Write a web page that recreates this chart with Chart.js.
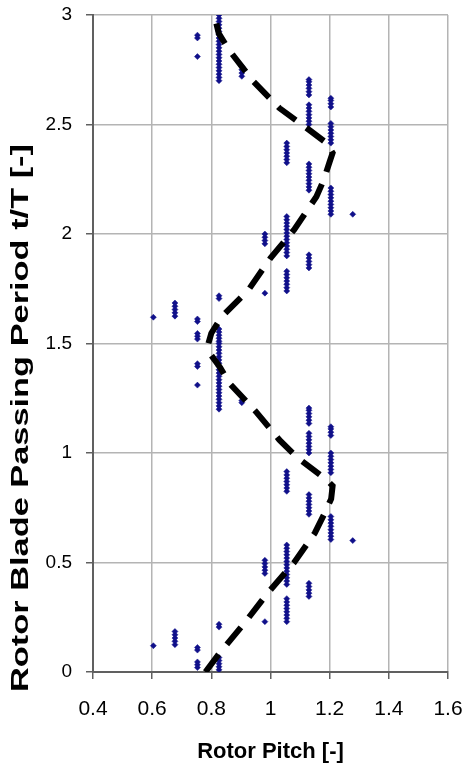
<!DOCTYPE html>
<html>
<head>
<meta charset="utf-8">
<script src="https://cdn.jsdelivr.net/npm/chart.js@4"></script>
<style>
  body { margin: 0; background: #fff; }
  #wrap { width: 464px; height: 765px; }
</style>
</head>
<body>
<div id="wrap"><canvas id="myChart" width="464" height="765"></canvas></div>
<script>
// Rotor pitch columns (x) and the t/T values (y)
const pitchCols = [0.604, 0.677, 0.753, 0.826, 0.903, 0.981, 1.055, 1.130, 1.204, 1.278];

const tAt0604 = [0.12, 1.62];
const tAt0677 = [0.125, 0.14, 0.155, 0.17, 0.185, 1.625, 1.64, 1.655, 1.67, 1.685];
const tAt0753 = [0.02, 0.033, 0.046, 0.10, 0.112, 1.31, 1.395, 1.408, 1.52, 1.533, 1.546, 1.60, 1.612, 2.81, 2.895, 2.908];
const tAt0826 = [0.01, 0.024, 0.038, 0.052, 0.066, 0.205, 0.218,
  1.20, 1.215, 1.23, 1.245, 1.26, 1.275, 1.29, 1.305, 1.32, 1.335, 1.35, 1.365, 1.38, 1.395, 1.41, 1.425, 1.44, 1.455, 1.47, 1.485, 1.50,
  1.51, 1.524, 1.538, 1.552, 1.566, 1.705, 1.718,
  2.70, 2.715, 2.73, 2.745, 2.76, 2.775, 2.79, 2.805, 2.82, 2.835, 2.85, 2.865, 2.88, 2.895, 2.91, 2.925, 2.94, 2.955, 2.97, 2.985, 3.0];
const tAt0903 = [1.23, 1.24, 2.72, 2.735, 2.75, 2.765];
const tAt0981 = [0.23, 0.45, 0.465, 0.48, 0.495, 0.51, 1.73, 1.955, 1.97, 1.985, 2.0];
const tAt1055 = [0.23, 0.245, 0.26, 0.275, 0.29, 0.305, 0.32, 0.335, 0.40, 0.415, 0.43, 0.445,
  0.46, 0.475, 0.49, 0.505, 0.52, 0.535, 0.55, 0.565, 0.58, 0.825, 0.84, 0.855, 0.87, 0.885, 0.90, 0.915,
  1.74, 1.755, 1.77, 1.785, 1.80, 1.815, 1.83, 1.90, 1.915, 1.93, 1.945,
  1.96, 1.975, 1.99, 2.005, 2.02, 2.035, 2.05, 2.065, 2.08, 2.325, 2.34, 2.355, 2.37, 2.385, 2.40, 2.415];
const tAt1130 = [0.345, 0.36, 0.375, 0.39, 0.405, 0.72, 0.735, 0.75, 0.765, 0.78, 0.795, 0.81,
  1.0, 1.015, 1.03, 1.045, 1.06, 1.075, 1.09, 1.135, 1.15, 1.165, 1.18, 1.195, 1.205,
  1.845, 1.86, 1.875, 1.89, 1.905, 2.20, 2.215, 2.23, 2.245, 2.26, 2.275, 2.29, 2.305, 2.32,
  2.50, 2.515, 2.53, 2.545, 2.56, 2.575, 2.59, 2.635, 2.65, 2.665, 2.68, 2.695, 2.705];
const tAt1204 = [0.605, 0.62, 0.635, 0.65, 0.665, 0.68, 0.695, 0.71, 0.91, 0.925, 0.94, 0.955, 0.97, 0.985, 1.0,
  1.08, 1.095, 1.11, 1.12,
  2.09, 2.105, 2.12, 2.135, 2.15, 2.165, 2.18, 2.195, 2.21, 2.415, 2.43, 2.445, 2.46, 2.475, 2.49, 2.505,
  2.58, 2.595, 2.61, 2.62];
const tAt1278 = [0.60, 2.09];

// dashed curve
const lineX = [0.78, 0.83, 0.91, 0.99, 1.08, 1.15, 1.18, 1.205, 1.21, 1.19, 1.09, 1.03, 0.95, 0.86, 0.83, 0.795, 0.79,
  0.80, 0.835, 0.925, 1.00, 1.08, 1.155, 1.18, 1.20, 1.21, 1.19, 1.13, 1.03, 0.94, 0.86, 0.825, 0.81];
const lineY = [0.0, 0.09, 0.22, 0.36, 0.50, 0.635, 0.717, 0.79, 0.85, 0.877, 0.98, 1.06, 1.19, 1.32, 1.39, 1.455, 1.50,
  1.547, 1.622, 1.744, 1.89, 2.02, 2.17, 2.247, 2.33, 2.37, 2.415, 2.476, 2.575, 2.70, 2.84, 2.916, 3.0];

const xTicks = [0.4, 0.6, 0.8, 1, 1.2, 1.4, 1.6];
const yTicks = [0, 0.5, 1, 1.5, 2, 2.5, 3];

const xTitle = 'Rotor Pitch [-]';
const yTitle = 'Rotor Blade Passing Period t/T [-]';

// build the scatter points
const columns = [tAt0604, tAt0677, tAt0753, tAt0826, tAt0903, tAt0981, tAt1055, tAt1130, tAt1204, tAt1278];
const dots = [];
columns.forEach((vals, i) => {
  vals.forEach(v => dots.push({ x: pitchCols[i], y: v }));
});
const curve = lineX.map((x, i) => ({ x: x, y: lineY[i] }));

// y title is drawn by hand so it can be stretched like the original
const yTitlePlugin = {
  id: 'yTitle',
  afterDraw(chart) {
    const ctx = chart.ctx;
    ctx.save();
    ctx.font = 'bold 23px "Liberation Sans", Arial, sans-serif';
    const w = ctx.measureText(yTitle).width;
    ctx.translate(22, 418);
    ctx.rotate(-Math.PI / 2);
    ctx.scale(548 / w, 1);
    ctx.fillStyle = '#000';
    ctx.textAlign = 'center';
    ctx.textBaseline = 'middle';
    ctx.fillText(yTitle, 0, 0);
    ctx.restore();
  }
};

const fontFam = '"Liberation Sans", Arial, sans-serif';

const ctx = document.getElementById('myChart').getContext('2d');
const myChart = new Chart(ctx, {
  type: 'scatter',
  data: {
    datasets: [{
      label: 'curve',
      data: curve,
      showLine: true,
      borderColor: '#000',
      borderWidth: 6,
      borderDash: [22, 13],
      pointRadius: 0,
      fill: false,
      order: 0
    }, {
      label: 'measured',
      data: dots,
      pointStyle: 'rectRot',
      pointRadius: 3,
      backgroundColor: '#10108a',
      borderColor: '#10108a',
      borderWidth: 0.5,
      order: 1
    }]
  },
  options: {
    responsive: false,
    animation: false,
    layout: { padding: 0 },
    plugins: {
      legend: { display: false },
      tooltip: { enabled: false }
    },
    scales: {
      x: {
        type: 'linear',
        min: 0.4,
        max: 1.6,
        afterBuildTicks: s => { s.ticks = xTicks.map(v => ({ value: v })); },
        afterFit: s => { s.height = 93; s.paddingLeft = 0; s.paddingRight = 16; },
        ticks: {
          color: '#000',
          padding: 18,
          callback: v => String(v),
          font: { family: fontFam, size: 21 }
        },
        grid: { color: '#b4b4b4', lineWidth: 1.5, tickLength: 7, tickColor: '#606060' },
        border: { color: '#606060', width: 2 },
        title: {
          display: true,
          text: xTitle,
          color: '#000',
          font: { family: fontFam, size: 22, weight: 'bold' },
          padding: { top: 0, bottom: 0 }
        }
      },
      y: {
        type: 'linear',
        min: 0,
        max: 3,
        afterBuildTicks: s => { s.ticks = yTicks.map(v => ({ value: v })); },
        afterFit: s => { s.width = 93; s.paddingTop = 15; s.paddingBottom = 0; },
        ticks: {
          color: '#000',
          padding: 14,
          callback: v => String(v),
          font: { family: fontFam, size: 19 }
        },
        grid: { color: '#b4b4b4', lineWidth: 1.5, tickLength: 7, tickColor: '#606060' },
        border: { color: '#606060', width: 2 }
      }
    }
  },
  plugins: [yTitlePlugin]
});
</script>
</body>
</html>
